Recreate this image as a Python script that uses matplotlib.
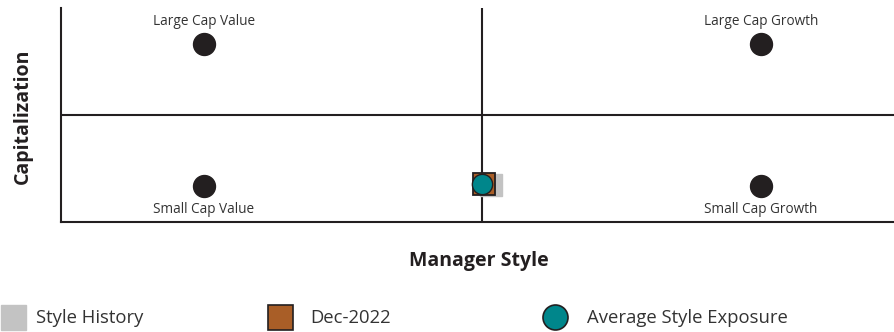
import matplotlib.pyplot as plt
from matplotlib.lines import Line2D

plt.rcParams['font.family'] = ['Open Sans', 'DejaVu Sans']

# reference style corners
corner_x = [-1, 1, -1, 1]
corner_y = [1, 1, -1, -1]
corner_names = ["Large Cap Value", "Large Cap Growth", "Small Cap Value", "Small Cap Growth"]

# manager positions
history_x = [0.03]
history_y = [-0.98]
latest_x = [0.005]
latest_y = [-0.97]
avg_x = [0.0]
avg_y = [-0.97]

GRAY = "#c3c3c3"
BROWN = "#a95e27"
TEAL = "#00868b"
INK = "#231f20"

fig = plt.figure(figsize=(8.94, 3.32), dpi=100)
ax = fig.add_axes([61 / 894, 1 - 222 / 332, 833 / 894, 214 / 332])
ax.set_xlim(-1.512, 1.478)
ax.set_ylim(-1.5, 1.5)

for side in ["top", "right"]:
    ax.spines[side].set_visible(False)
for side in ["left", "bottom"]:
    ax.spines[side].set_color(INK)
    ax.spines[side].set_linewidth(1.5)
ax.set_xticks([])
ax.set_yticks([])

ax.axhline(0, color=INK, lw=1.5, zorder=1)
ax.axvline(0, color=INK, lw=1.5, zorder=1)

ax.plot(corner_x, corner_y, "o", ms=15.8, color=INK, ls="none", zorder=3)
for x, y, name in zip(corner_x, corner_y, corner_names):
    dy = 0.31 if y > 0 else -0.32
    ax.text(x, y + dy, name, ha="center", va="center", fontsize=9.8, color="#333333")

ax.plot(history_x, history_y, "s", ms=15.8, color=GRAY, ls="none", zorder=3)
ax.plot(latest_x, latest_y, "s", ms=15.8, color=BROWN, mec=INK, mew=1.3, ls="none", zorder=4)
ax.plot(avg_x, avg_y, "o", ms=14.6, color=TEAL, mec=INK, mew=1.0, ls="none", zorder=5)

fig.text(23 / 894, 1 - 116 / 332, "Capitalization", rotation=90, ha="center", va="center",
         fontsize=14, fontweight="bold", color=INK)
fig.text(479 / 894, 1 - 261 / 332, "Manager Style", ha="center", va="center",
         fontsize=14, fontweight="bold", color=INK)

# legend, three separate entries
entries = [
    (Line2D([], [], marker="s", ms=18, color=GRAY, ls="none"), "Style History", 1, 0.54),
    (Line2D([], [], marker="s", ms=18, color=BROWN, mec=INK, mew=1.2, ls="none"), "Dec-2022", 268, 0.92),
    (Line2D([], [], marker="o", ms=18, color=TEAL, mec=INK, mew=1.2, ls="none"), "Average Style Exposure", 543, 1.03),
]
for h, lab, xpos, pad in entries:
    fig.legend([h], [lab], loc="center left", bbox_to_anchor=(xpos / 894, 1 - 318 / 332),
               frameon=False, fontsize=13.3, handlelength=1.35, handletextpad=pad,
               borderpad=0, borderaxespad=0, labelcolor="#333333")

fig.savefig("out.png", dpi=100)
